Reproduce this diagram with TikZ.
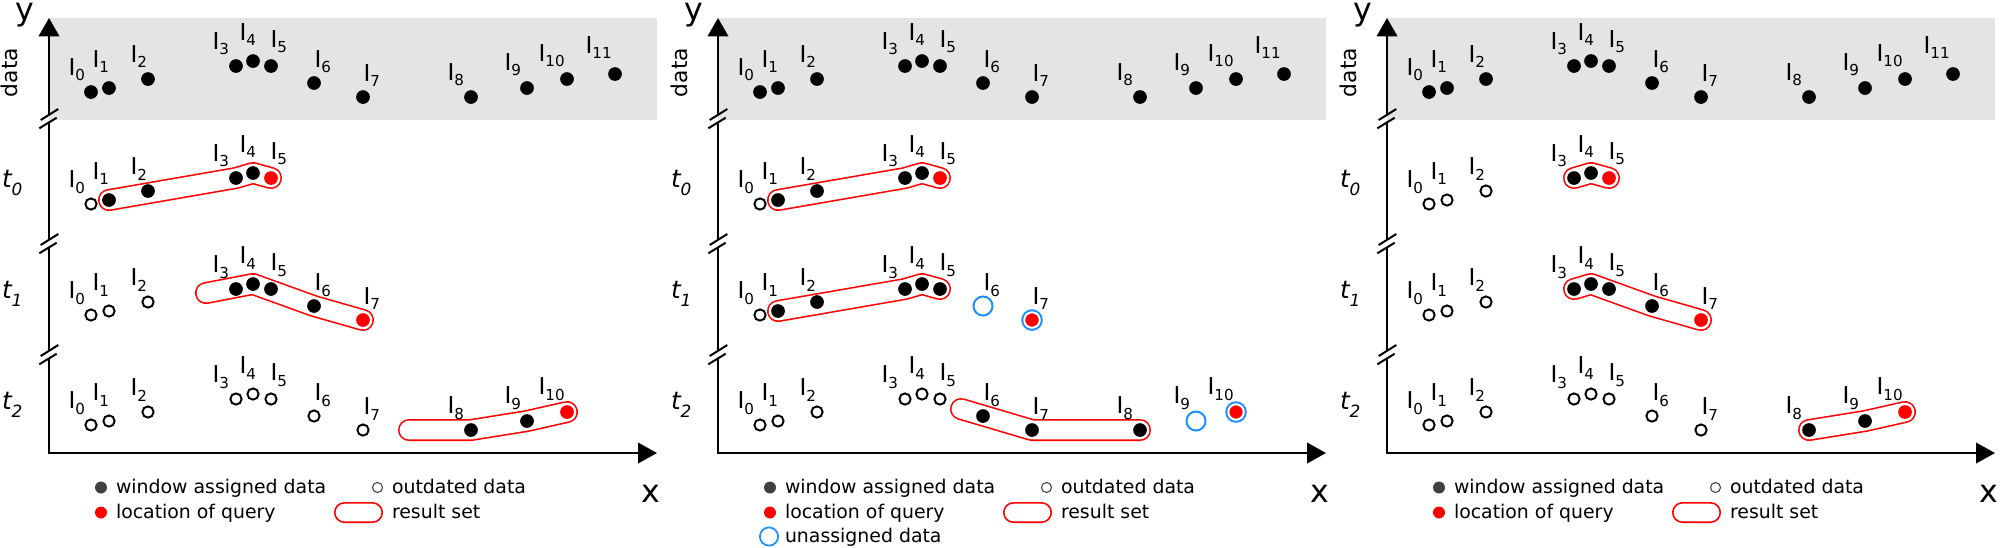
\documentclass[tikz,border=0pt]{standalone}
\usepackage{fontspec}
\setmainfont{DejaVu Sans}[ItalicFont=DejaVu Sans Oblique]
\usetikzlibrary{arrows.meta}
\definecolor{databg}{RGB}{228,228,228}
\definecolor{qred}{RGB}{255,0,0}
\definecolor{ublue}{RGB}{30,144,255}
\definecolor{lgray}{RGB}{64,64,64}
\pgfdeclarelayer{back}
\pgfdeclarelayer{mid}
\pgfsetlayers{back,mid,main}
\newcommand\Ilab[1]{I\raisebox{-1.7pt}{\fontsize{4.3pt}{5pt}\selectfont #1}}
\newcommand\tlab[1]{{\fontsize{7pt}{8pt}\selectfont\itshape t\raisebox{-2.3pt}{\fontsize{4.8pt}{5pt}\selectfont #1}}}
\def\PX{{91,109,148,236,253,271,314,363,471,527,567,615}}
\def\PY{{92,88,79,66,61,66,83,97,97,88,79,74}}
\def\LX{{-19,-13,-14,-20,-10,3,4,4,-20,-19,-25,-26}}
\def\LY{{-17,-21,-17,-17,-21,-19,-16,-16,-17,-18,-18,-21}}
% #1 panel id, #2 row id, #3 y offset, #4 states
\newcommand\drawrow[4]{%
  \foreach \s [count=\i from 0] in {#4} {%
    \pgfmathsetmacro\xx{\PX[\i]}%
    \pgfmathsetmacro\ya{\PY[\i]}%
    \pgfmathsetmacro\yy{#3+\ya}%
    \pgfmathsetmacro\dx{\LX[\i]}%
    \pgfmathsetmacro\dy{\LY[\i]}%
    \pgfmathsetmacro\lx{\xx+\dx-3.4}%
    \pgfmathsetmacro\ly{\yy+\dy}%
    \node[pt-\s] (#1#2-\i) at (\xx,\yy) {};
    \node[lab] (#1#2-l\i) at (\lx,\ly) {\Ilab{\i}};
  }}
% axes, labels, legend common to a panel
\newcommand\panelframe[1]{%
  \begin{pgfonlayer}{back}
    \fill[databg] (49,18) rectangle (657,120);
  \end{pgfonlayer}
  \coordinate (#1-o) at (49,453);
  \coordinate (#1-xt) at (657,453);
  \coordinate (#1-yt) at (49,18);
  \draw[axis, -{Triangle[length=5.4pt,width=5.8pt]}] (49,358.4) -- (#1-o) -- (#1-xt);
  \draw[axis] (49,350.8) -- (49,247.4);
  \draw[axis] (49,239.8) -- (49,122.4);
  \draw[axis, -{Triangle[length=5.2pt,width=5.8pt]}] (49,114.8) -- (#1-yt);
  \foreach \yb in {119,244,355} {
    \draw[brk] (40.7,\yb+1) -- (58.3,\yb-10);
    \draw[brk] (39.3,\yb+9.3) -- (56.7,\yb-1.3);
  }
  \node[big, anchor=base] (#1-ylab) at (25,20) {y};
  \node[big, anchor=base] (#1-xlab) at (651,502) {x};
  \node[font=\fontsize{6.2pt}{7pt}\selectfont, anchor=base, rotate=90] (#1-data) at (18,72.5) {data};
  \node[anchor=base west] (#1-t0) at (2,187) {\tlab{0}};
  \node[anchor=base west] (#1-t1) at (2,298) {\tlab{1}};
  \node[anchor=base west] (#1-t2) at (2,409) {\tlab{2}};
  \node[circle, minimum size=3.4pt, fill=lgray] (#1-lg1) at (101,487.5) {};
  \node[lgtext] (#1-lg1t) at (116,493) {window assigned data};
  \node[circle, minimum size=2.85pt, draw=lgray, line width=0.3pt] (#1-lg2) at (377.5,487.5) {};
  \node[lgtext] (#1-lg2t) at (392,493) {outdated data};
  \node[circle, minimum size=3.4pt, fill=qred] (#1-lg3) at (101,512.5) {};
  \node[lgtext] (#1-lg3t) at (116,518) {location of query};
  \node[rectangle, rounded corners=2.76pt, minimum width=13.5pt, minimum height=5.52pt, draw=qred, line width=0.45pt] (#1-lg4) at (358.5,512.5) {};
  \node[lgtext] (#1-lg4t) at (392,518) {result set};
  \drawrow{#1}{d}{0}{f,f,f,f,f,f,f,f,f,f,f,f}
}
\begin{document}
\begin{tikzpicture}[x=0.01cm,y=-0.01cm,
  every node/.style={inner sep=0pt, outer sep=0pt},
  dot/.style={circle, inner sep=0pt, minimum size=3.9pt},
  pt-f/.style={dot, fill=black},
  pt-r/.style={dot, fill=qred},
  pt-o/.style={circle, minimum size=3.2pt, draw=black, fill=white, line width=0.55pt},
  pt-b/.style={circle, minimum size=5.41pt, draw=ublue, line width=0.57pt},
  pt-q/.style={circle, minimum size=4.4pt, fill=qred, draw=white, line width=0.57pt, preaction={draw=ublue, line width=1.71pt}},
  lab/.style={anchor=base west, font=\fontsize{6.6pt}{7pt}\selectfont},
  big/.style={font=\fontsize{9pt}{10pt}\selectfont},
  sausage/.style={line cap=round, line join=round, draw=white, line width=5.35pt,
    preaction={draw=qred, line width=6.26pt, line cap=round, line join=round}},
  axis/.style={line width=0.71pt},
  brk/.style={line width=0.57pt},
  lgtext/.style={anchor=base west, font=\fontsize{5.37pt}{6pt}\selectfont},
]
\useasboundingbox (0,0) rectangle (2000,547);

% ---------- panel A ----------
\begin{scope}
  \panelframe{A}
  \drawrow{A}{0}{112}{o,f,f,f,f,r}
  \drawrow{A}{1}{223}{o,o,o,f,f,f,f,r}
  \drawrow{A}{2}{333}{o,o,o,o,o,o,o,o,f,f,r}
  \coordinate (A1-L) at (206,293);
  \coordinate (A2-L) at (409,430);
  \begin{pgfonlayer}{mid}
    \draw[sausage] (A0-1.center) -- (A0-3.center) -- (A0-4.center) -- (A0-5.center);
    \draw[sausage] (A1-L) -- (A1-4.center) -- (A1-6.center) -- (A1-7.center);
    \draw[sausage] (A2-L) -- (A2-8.center) -- (A2-9.center) -- (A2-10.center);
  \end{pgfonlayer}
\end{scope}

% ---------- panel B ----------
\begin{scope}[shift={(669,0)}]
  \panelframe{B}
  \drawrow{B}{0}{112}{o,f,f,f,f,r}
  \drawrow{B}{1}{223}{o,f,f,f,f,f,b,q}
  \drawrow{B}{2}{333}{o,o,o,o,o,o,f,f,f,b,q}
  \node[circle, minimum size=5.18pt, draw=ublue, line width=0.5pt] (B-lg5) at (100,536.5) {};
  \node[lgtext] (B-lg5t) at (116,542) {unassigned data};
  \coordinate (B2-L) at (292,409);
  \begin{pgfonlayer}{mid}
    \draw[sausage] (B0-1.center) -- (B0-3.center) -- (B0-4.center) -- (B0-5.center);
    \draw[sausage] (B1-1.center) -- (B1-3.center) -- (B1-4.center) -- (B1-5.center);
    \draw[sausage] (B2-L) -- (B2-7.center) -- (B2-8.center);
  \end{pgfonlayer}
\end{scope}

% ---------- panel C ----------
\begin{scope}[shift={(1338,0)}]
  \panelframe{C}
  \drawrow{C}{0}{112}{o,o,o,f,f,r}
  \drawrow{C}{1}{223}{o,o,o,f,f,f,f,r}
  \drawrow{C}{2}{333}{o,o,o,o,o,o,o,o,f,f,r}
  \begin{pgfonlayer}{mid}
    \draw[sausage] (C0-3.center) -- (C0-4.center) -- (C0-5.center);
    \draw[sausage] (C1-3.center) -- (C1-4.center) -- (C1-6.center) -- (C1-7.center);
    \draw[sausage] (C2-8.center) -- (C2-9.center) -- (C2-10.center);
  \end{pgfonlayer}
\end{scope}
\end{tikzpicture}
\end{document}
